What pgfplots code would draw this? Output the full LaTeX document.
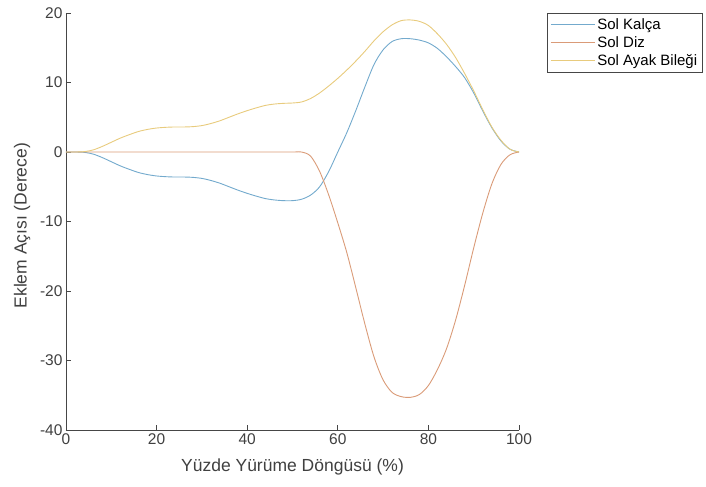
\documentclass[border=0pt]{standalone}
\usepackage{fontspec}
\setmainfont{Liberation Sans}
\usepackage{pgfplots}
\pgfplotsset{compat=1.18}

\definecolor{hipc}{RGB}{115,170,205}
\definecolor{kneec}{RGB}{218,155,120}
\definecolor{anklec}{RGB}{232,203,125}
\definecolor{axc}{RGB}{70,70,70}

\begin{document}
\begin{tikzpicture}
  \useasboundingbox (-66bp,-57bp) rectangle (640bp,430bp);
  \begin{axis}[
      scale only axis,
      width=453bp, height=417bp,
      xmin=0, xmax=100, ymin=-40, ymax=20,
      xtick={0,20,...,100}, ytick={-40,-30,...,20},
      axis lines*=left,
      axis line style={axc, line width=0.9bp},
      tick style={axc, line width=0.7bp},
      tick align=inside,
      major tick length=5bp,
      /pgf/number format/assume math mode=true,
      tick label style={font=\fontsize{15.5bp}{18bp}\selectfont, text=black!75},
      xlabel={Yüzde Yürüme Döngüsü (\%)},
      ylabel={Eklem Açısı (Derece)},
      every axis x label/.style={at={(axis description cs:0.5,-0.088)}, anchor=center,
        font=\fontsize{17.5bp}{20bp}\selectfont, text=black!75},
      every axis y label/.style={at={(axis description cs:-0.097,0.49)}, rotate=90, anchor=center,
        font=\fontsize{17.5bp}{20bp}\selectfont, text=black!75},
      legend style={at={(1.062,1.0)}, anchor=north west, draw=axc, line width=0.6bp,
        font=\fontsize{15bp}{18bp}\selectfont, inner xsep=3bp, inner ysep=3.5bp,
        row sep=1.5bp, cells={anchor=west}},
      legend image code/.code={\draw[#1, line width=1bp] (0bp,0bp) -- (44bp,0bp);},
    ]
    \addplot[hipc, line width=0.9bp, smooth] coordinates {
      (0,0) (2,0) (4,-0.05) (6,-0.3) (8,-0.8) (10,-1.4) (12,-2.0) (14,-2.5)
      (16,-2.95) (18,-3.25) (20,-3.45) (22,-3.55) (24,-3.6) (26,-3.6) (28,-3.65)
      (30,-3.8) (32,-4.1) (34,-4.5) (36,-5.0) (38,-5.5) (40,-5.95) (42,-6.35)
      (44,-6.7) (46,-6.9) (48,-7.0) (50,-7.0) (52,-6.8) (54,-6.2) (56,-5.0)
      (58,-2.8) (60,0.0) (62,2.8) (64,6.0) (66,9.4) (68,12.6) (70,14.7)
      (72,15.9) (74,16.3) (76,16.3) (78,16.1) (80,15.7) (82,14.9) (84,13.7)
      (86,12.3) (88,10.7) (90,8.5) (92,5.9) (94,3.5) (96,1.6) (98,0.4) (100,0)
    };
    \addlegendentry{Sol Kalça}
    \addplot[kneec, line width=0.9bp, smooth] coordinates {
      (0,0) (10,0) (20,0) (30,0) (40,0) (50,0) (52,0) (54,-0.6) (56,-2.8)
      (58,-6.2) (60,-10.2) (62,-14.5) (64,-19.6) (66,-24.8) (68,-29.5)
      (70,-32.8) (72,-34.6) (74,-35.2) (76,-35.3) (78,-34.9) (80,-33.6)
      (82,-31.3) (84,-28.3) (86,-24.2) (88,-19.2) (90,-13.8) (92,-8.8)
      (94,-4.6) (96,-1.8) (98,-0.4) (100,0)
    };
    \addlegendentry{Sol Diz}
    \addplot[anklec, line width=0.9bp, smooth] coordinates {
      (0,0) (2,0) (4,0.05) (6,0.3) (8,0.8) (10,1.4) (12,2.0) (14,2.5)
      (16,2.95) (18,3.25) (20,3.45) (22,3.55) (24,3.6) (26,3.6) (28,3.65)
      (30,3.8) (32,4.1) (34,4.5) (36,5.0) (38,5.5) (40,5.95) (42,6.35)
      (44,6.7) (46,6.9) (48,7.0) (50,7.05) (52,7.2) (54,7.7) (56,8.5)
      (58,9.5) (60,10.6) (62,11.8) (64,13.1) (66,14.5) (68,16.0) (70,17.3)
      (72,18.3) (74,18.9) (76,19.0) (78,18.8) (80,18.2) (82,17.0) (84,15.5)
      (86,13.6) (88,11.3) (90,8.8) (92,6.1) (94,3.6) (96,1.7) (98,0.4) (100,0)
    };
    \addlegendentry{Sol Ayak Bileği}
  \end{axis}
\end{tikzpicture}
\end{document}
